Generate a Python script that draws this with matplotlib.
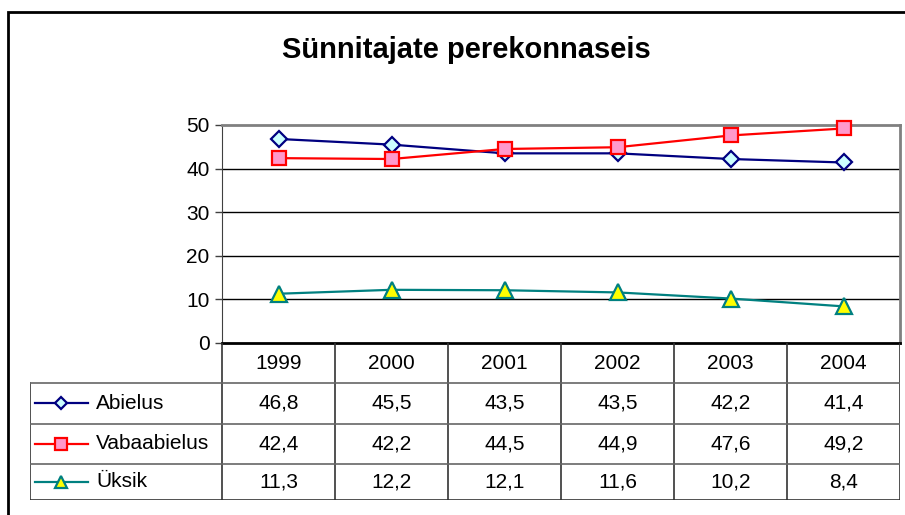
import matplotlib.pyplot as plt
from matplotlib.patches import Rectangle

# data
years = ["1999", "2000", "2001", "2002", "2003", "2004"]
abielus = [46.8, 45.5, 43.5, 43.5, 42.2, 41.4]
vabaabielus = [42.4, 42.2, 44.5, 44.9, 47.6, 49.2]
uksik = [11.3, 12.2, 12.1, 11.6, 10.2, 8.4]
series_names = ["Abielus", "Vabaabielus", "Üksik"]

plt.rcParams['font.family'] = ['Liberation Sans', 'DejaVu Sans']

W, H = 905, 515
fig = plt.figure(figsize=(W / 100, H / 100), dpi=100)

# outer chart frame
fig.patches.append(Rectangle((8 / W, -0.05), 1.2, 1 - 12 / H + 0.05,
                             transform=fig.transFigure, fill=False,
                             edgecolor='black', linewidth=2))

fig.text(466 / W, 1 - 50 / H, "Sünnitajate perekonnaseis", ha='center', va='center',
         fontsize=21, fontweight='bold')

styles = [
    dict(color='#000080', marker='D', markersize=8, markerfacecolor='#CCFFFF', markeredgecolor='#000080'),
    dict(color='#FF0000', marker='s', markersize=10, markerfacecolor='#FF99CC', markeredgecolor='#FF0000'),
    dict(color='#008080', marker='^', markersize=11, markerfacecolor='#FFFF00', markeredgecolor='#008080'),
]
legend_sizes = [6.5, 8, 9]
values = [abielus, vabaabielus, uksik]

# plot area
left, right, top, bottom = 222, 900, 125, 343
ax = fig.add_axes([left / W, 1 - bottom / H, (right - left) / W, (bottom - top) / H])
x = list(range(len(years)))
for vals, st in zip(values, styles):
    ax.plot(x, vals, linewidth=1.6, markeredgewidth=1.6, **st, zorder=3, clip_on=False)
ax.set_xlim(-0.5, len(years) - 0.5)
ax.set_ylim(0, 50)
ax.set_yticks([0, 10, 20, 30, 40, 50])
ax.set_xticks([])
ax.tick_params(axis='y', labelsize=15, length=5, width=1, color='#404040', pad=4)
for yv in [10, 20, 30, 40]:
    ax.axhline(yv, color='black', linewidth=1, zorder=1)
for side in ['top', 'right']:
    ax.spines[side].set_color('#808080')
    ax.spines[side].set_linewidth(2)
ax.spines['left'].set_color('#404040')
ax.spines['bottom'].set_color('black')
ax.spines['bottom'].set_linewidth(2)

# data table
tleft, tbottom = 30, 500
col_w = (right - left) / len(years)
x0 = -0.5 - (left - tleft) / col_w
tax = fig.add_axes([tleft / W, 1 - tbottom / H, (right - tleft) / W, (tbottom - bottom) / H])
tax.set_xlim(x0, len(years) - 0.5)
row_b = [0, 1, 2, 3, 3.9]
tax.set_ylim(row_b[-1], 0)
tax.axis('off')

# grid lines of the table
for i in range(len(years) + 1):
    tax.plot([i - 0.5, i - 0.5], [0, row_b[-1]], color='#333333', linewidth=1.2)
tax.plot([x0, x0], [1, row_b[-1]], color='#333333', linewidth=1.2)
for j, yb in enumerate(row_b[1:], start=1):
    tax.plot([x0, len(years) - 0.5], [yb, yb], color='#666666' if j < 4 else '#333333', linewidth=1.2)

for i, yr in enumerate(years):
    tax.text(i, 0.5, yr, ha='center', va='center', fontsize=15)

for r, (name, vals, st) in enumerate(zip(series_names, values, styles)):
    yc = (row_b[r + 1] + row_b[r + 2]) / 2
    lx0 = x0 + 5 / col_w
    lx1 = x0 + 58 / col_w
    tax.plot([lx0, lx1], [yc, yc], linewidth=1.6, color=st['color'])
    mst = {k: v for k, v in st.items() if k not in ('color', 'markersize')}
    tax.plot([(lx0 + lx1) / 2], [yc], linestyle='none', markeredgewidth=1.6,
             markersize=legend_sizes[r], **mst)
    tax.text(x0 + 66 / col_w, yc, name, ha='left', va='center', fontsize=15)
    for i, v in enumerate(vals):
        tax.text(i, yc, f"{v:.1f}".replace('.', ','), ha='center', va='center', fontsize=15)

fig.savefig("out.png", dpi=100)
